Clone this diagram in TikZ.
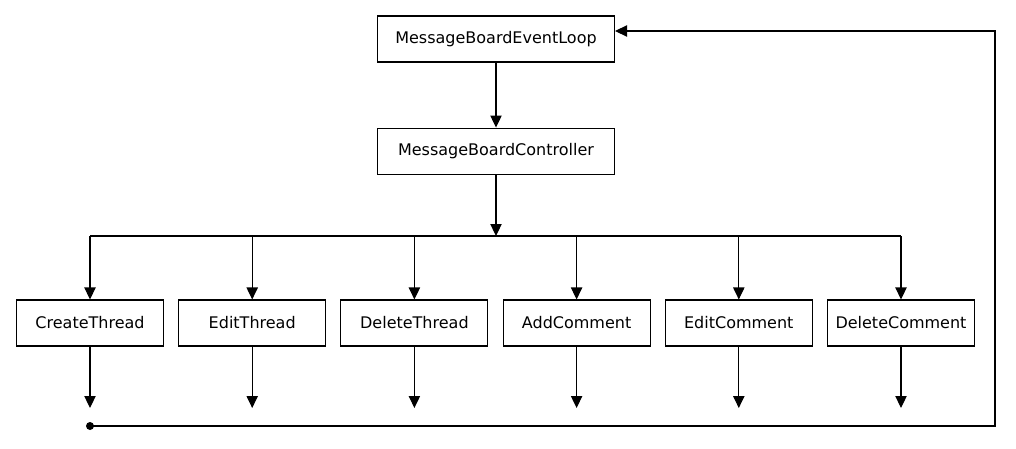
\documentclass[tikz,border=0pt]{standalone}
\usepackage{fontspec}
\setmainfont{DejaVu Sans}
\usepackage{tikz}
\usetikzlibrary{arrows.meta, positioning, calc}

\begin{document}
\begin{tikzpicture}[
  x=0.75pt, y=-0.75pt,
  box/.style={
    draw, line width=0.8pt,
    minimum width=110.25pt, minimum height=34.5pt,
    font=\fontsize{12}{14}\selectfont, inner sep=2pt
  },
  widebox/.style={box, minimum width=177.75pt},
  arrow/.style={-{Triangle[length=9pt, width=8.5pt]}, line width=0.8pt},
  line/.style={line width=0.8pt},
]
\useasboundingbox (0,0) rectangle (1016,449);

% top of the loop
\node[widebox] (loop) at (496,39) {MessageBoardEventLoop};
\node[widebox, below=48.75pt of loop] (ctrl) {MessageBoardController};

% one box for each action
\node[box] (create) at (90,323) {CreateThread};
\node[box, right=10.6pt of create] (editth)  {EditThread};
\node[box, right=10.6pt of editth] (delth)   {DeleteThread};
\node[box, right=10.6pt of delth]  (addcom)  {AddComment};
\node[box, right=10.6pt of addcom] (editcom) {EditComment};
\node[box, right=10.6pt of editcom] (delcom) {DeleteComment};

\coordinate (bus)    at (ctrl.south |- 0,236);
\coordinate (back)   at (995,426);
\coordinate (corner) at (995,31);

\draw[arrow] (loop) -- (ctrl);
\draw[arrow] (ctrl) -- (bus);
\draw[line] (create.north |- bus) -- (delcom.north |- bus);

\foreach \act in {create, editth, delth, addcom, editcom, delcom} {
  \draw[arrow] (\act.north |- bus) -- (\act);
  \draw[arrow] (\act) -- (\act.south |- 0,408);
}

% back to the event loop
\fill (create.south |- back) circle (3pt);
\draw[arrow] (create.south |- back) -- (back) -- (corner) -- (loop.east |- corner);

\end{tikzpicture}
\end{document}
